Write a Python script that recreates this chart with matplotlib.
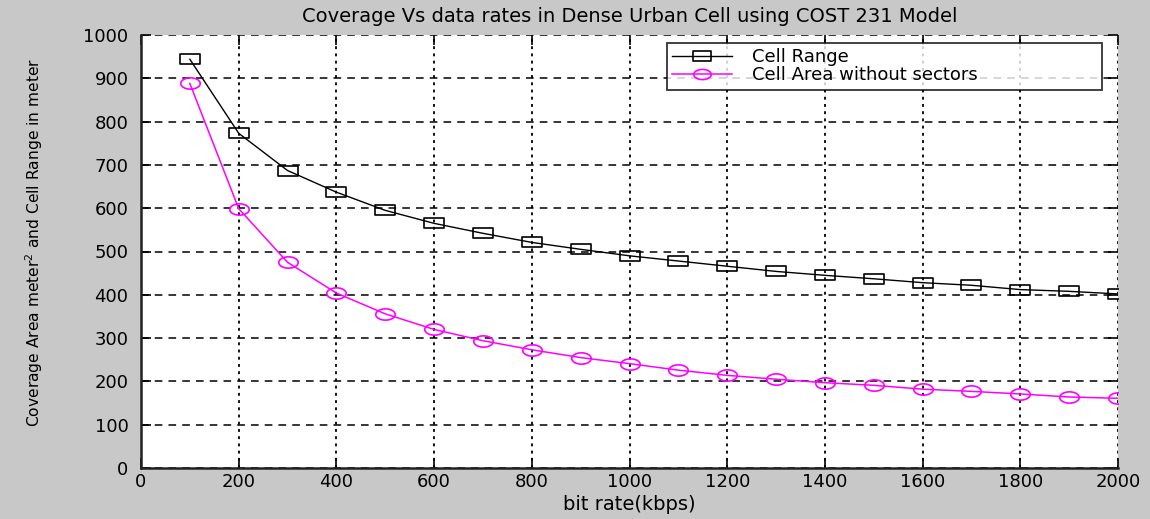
import numpy as np
import matplotlib
matplotlib.use("Agg")
import matplotlib.pyplot as plt
from matplotlib.path import Path

bit_rate = [100, 200, 300, 400, 500, 600, 700, 800, 900, 1000,
            1100, 1200, 1300, 1400, 1500, 1600, 1700, 1800, 1900, 2000]
cell_range = [944, 773, 687, 637, 595, 565, 542, 521, 505, 490,
              478, 466, 454, 445, 437, 428, 422, 412, 408, 402]
cell_area = [888, 599, 475, 404, 356, 320, 294, 273, 255, 241,
             226, 214, 205, 197, 191, 182, 177, 171, 164, 161]

x_ticks = [0, 200, 400, 600, 800, 1000, 1200, 1400, 1600, 1800, 2000]
y_ticks = [0, 100, 200, 300, 400, 500, 600, 700, 800, 900, 1000]

plt.rcParams['font.family'] = ['DejaVu Sans']

# stretched markers (reference image is horizontally stretched)
rect = Path([(-1, -0.5), (1, -0.5), (1, 0.5), (-1, 0.5), (-1, -0.5)],
            [Path.MOVETO, Path.LINETO, Path.LINETO, Path.LINETO, Path.CLOSEPOLY])
t = np.linspace(0, 2 * np.pi, 60)
ell = Path(np.column_stack([np.cos(t), 0.58 * np.sin(t)]))

bg = '#c8c8c8'
fig = plt.figure(figsize=(11.5, 5.19), dpi=100, facecolor=bg)
ax = fig.add_axes([141 / 1150, 1 - 468 / 519, 977 / 1150, 433 / 519])
ax.set_facecolor('white')

ax.plot(bit_rate, cell_range, color='black', lw=1, marker=rect, markersize=14.5,
        markerfacecolor='none', markeredgecolor='black', markeredgewidth=1.2,
        label='Cell Range')
ax.plot(bit_rate, cell_area, color='#ff00ff', lw=1.1, marker=ell, markersize=14,
        markerfacecolor='none', markeredgecolor='#ff00ff', markeredgewidth=1.2,
        label='Cell Area without sectors')

ax.set_xlim(0, 2000)
ax.set_ylim(0, 1000)
ax.set_xticks(x_ticks)
ax.set_yticks(y_ticks)
ax.tick_params(labelsize=13, direction='in', length=7, width=1.2,
               top=True, right=True, labeltop=False, labelright=False)
ax.tick_params(axis='x', pad=3.5)
ax.tick_params(axis='y', pad=9)

ax.xaxis.grid(True, color='black', lw=1.3, ls=(0, (1.6, 2.4)))
ax.yaxis.grid(True, color='black', lw=1.1, ls=(0, (5, 4)))

for side in ['top', 'right']:
    ax.spines[side].set_visible(False)
for side in ['left', 'bottom']:
    ax.spines[side].set_linewidth(1.8)
    ax.spines[side].set_color('#222222')

ax.set_title('Coverage Vs data rates in Dense Urban Cell using COST 231 Model',
             fontsize=14, pad=9)
ax.set_xlabel('bit rate(kbps)', fontsize=14, labelpad=3)
ax.set_ylabel('Coverage Area meter$^2$ and Cell Range in meter', fontsize=11.2)
ax.yaxis.set_label_coords(-0.098, 0.52)

leg = ax.legend(loc='upper left',
                bbox_to_anchor=(0.5384, 0.873, 0.4452, 0.1085),
                mode='expand', fontsize=13,
                frameon=True, fancybox=False, edgecolor='black',
                borderpad=0.3, labelspacing=0.0, handlelength=3.3,
                handletextpad=1.1, markerscale=0.9, borderaxespad=0)
leg.get_frame().set_linewidth(1.3)

fig.savefig('out.png', dpi=100, facecolor=bg)
